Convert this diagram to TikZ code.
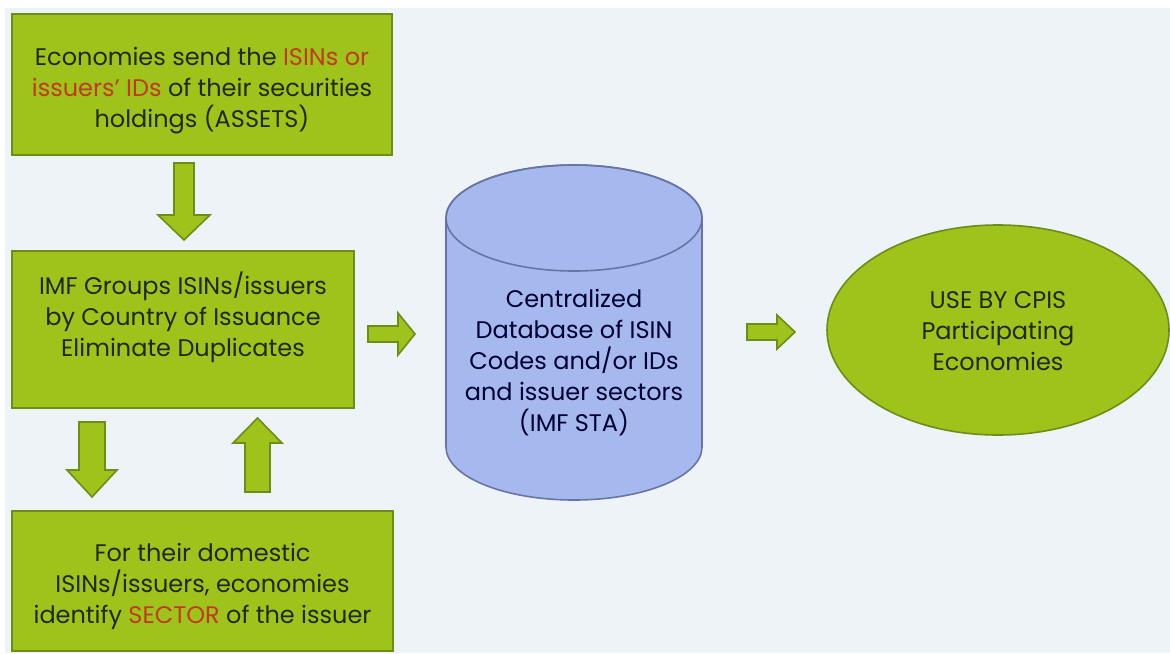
\documentclass[tikz,border=0pt]{standalone}
\usepackage{fontspec}
\setmainfont{Poppins}
\usepackage{tikz}
\usetikzlibrary{shapes.geometric}
\definecolor{leaf}{HTML}{9EC41C}
\definecolor{leafdark}{HTML}{6E8C18}
\definecolor{dbblue}{HTML}{A6B9EE}
\definecolor{dbdark}{HTML}{6675A6}
\definecolor{hilite}{HTML}{C23A1C}
\definecolor{inktext}{HTML}{1F2A0C}
\definecolor{backdrop}{HTML}{EEF3F7}
\tikzstyle{gshape}=[draw=leafdark, fill=leaf, line width=0.8pt]
\tikzstyle{gbox}=[gshape, inner sep=0pt]
\tikzstyle{gtext}=[align=center, text=inktext, font=\fontsize{12}{15.5}\selectfont]
\tikzstyle{dbtext}=[align=center, text=black!80!blue, font=\fontsize{12}{15.5}\selectfont]
\newcommand{\hl}[1]{\textcolor{hilite}{#1}}

\begin{document}
\begin{tikzpicture}[x=0.5pt, y=0.5pt]
        \useasboundingbox (0,0) rectangle (1170,-653);
        \fill[white] (0,0) rectangle (1170,-653);
        \fill[backdrop] (5,-8) rectangle (1170,-653);
        % boxes on the left
        \node[gbox, minimum width=190pt, minimum height=70.5pt,
            label={[gtext, yshift=-3pt]center:{Economies send the \hl{ISINs or}\\ \hl{issuers' IDs} of their securities\\ holdings (ASSETS)}}]
            (send) at (202,-84.5) {};
        \node[gbox, minimum width=171pt, minimum height=78.5pt,
            label={[gtext, yshift=6pt]center:{IMF Groups ISINs/issuers\\ by Country of Issuance\\ Eliminate Duplicates}}]
            (groups) at (183,-329.5) {};
        \node[gbox, minimum width=190.5pt, minimum height=70pt,
            label={[gtext, yshift=-2.75pt]center:{For their domestic\\ ISINs/issuers, economies\\ identify \hl{SECTOR} of the issuer}}]
            (sector) at (202.5,-581) {};
        % block arrows
        \draw[gshape] (174,-163) -- (194,-163) -- (194,-215) -- (210,-215) -- (184,-240)
            -- (158,-215) -- (174,-215) -- cycle;
        \draw[gshape] (79,-422) -- (105,-422) -- (105,-470) -- (117,-470) -- (92,-497)
            -- (67,-470) -- (79,-470) -- cycle;
        \draw[gshape] (245,-492) -- (270,-492) -- (270,-443) -- (282,-443) -- (257.5,-418)
            -- (233,-443) -- (245,-443) -- cycle;
        \draw[gshape] (368,-326) -- (398,-326) -- (398,-313) -- (415,-334) -- (398,-355)
            -- (398,-342) -- (368,-342) -- cycle;
        \draw[gshape] (747,-324) -- (777,-324) -- (777,-315) -- (795,-332) -- (777,-349)
            -- (777,-340) -- (747,-340) -- cycle;
        % database
        \draw[draw=dbdark, fill=dbblue, line width=0.8pt] (446,-218) -- (446,-447)
            arc[start angle=180, end angle=360, x radius=128, y radius=53]
            -- (702,-218) arc[start angle=0, end angle=180, x radius=128, y radius=53] -- cycle;
        \draw[draw=dbdark, line width=0.8pt] (574,-218) ellipse [x radius=128, y radius=53];
        \node[dbtext] (db) at (574,-363)
            {Centralized\\ Database of ISIN\\ Codes and/or IDs\\ and issuer sectors\\ (IMF STA)};
        % users
        \node[gbox, ellipse, minimum width=171pt, minimum height=105pt,
            label={[gtext, yshift=-0.5pt]center:{USE BY CPIS\\ Participating\\ Economies}}]
            (use) at (998,-330) {};
    \end{tikzpicture}
\end{document}
